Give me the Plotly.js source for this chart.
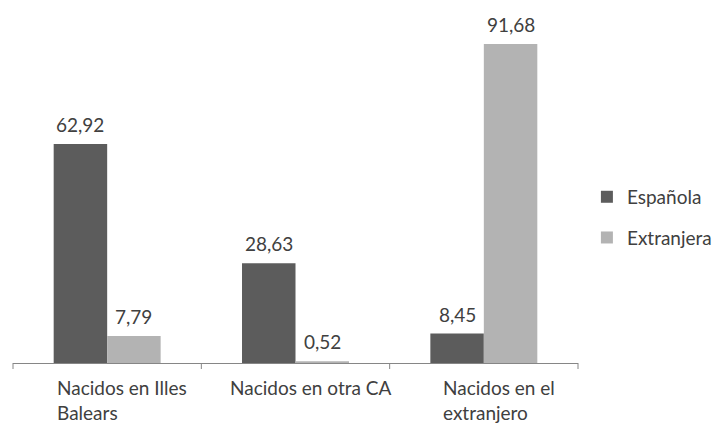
<!DOCTYPE html>
<html><head><meta charset="utf-8">
<script src="https://cdn.plot.ly/plotly-3.0.1.min.js"></script>
<style>body{margin:0;background:#fff}#chart{width:714px;height:423px}</style>
</head><body><div id="chart"></div>
<script>
const categories = ["Nacidos en Illes Balears", "Nacidos en otra CA", "Nacidos en el extranjero"];
const tickLabels = ["Nacidos en Illes<br>Balears", "Nacidos en otra CA", "Nacidos en el<br>extranjero"];
const espanola = [62.92, 28.63, 8.45];
const extranjera = [7.79, 0.52, 91.68];
const seriesNames = ["Española", "Extranjera"];

const font = "Lato, Open Sans, sans-serif";
const txt = "#404040";
const fmt = v => v.toFixed(2).replace('.', ',');

const traces = [
  {type:'bar', name:seriesNames[0], x:categories, y:espanola, marker:{color:'#5c5c5c'},
   legendgroup:'a', hoverinfo:'skip'},
  {type:'bar', name:seriesNames[1], x:categories, y:extranjera, marker:{color:'#b3b3b3'},
   legendgroup:'b', hoverinfo:'skip'}
];

const M = {l:12.5, r:136, t:15, b:60};
const bargap = 0.432;
const plotW = 714 - M.l - M.r;
const half = plotW / categories.length * (1 - bargap) / 4;

const annotations = categories.map((c,i)=>({
  x:c, xref:'x', y:0, yref:'paper', yanchor:'top', yshift:-11, xshift:15,
  text:tickLabels[i], showarrow:false, align:'left', xanchor:'center',
  font:{family:font,size:19,color:txt}
}));
[espanola, extranjera].forEach((arr, s) => arr.forEach((v, i) => annotations.push({
  x:categories[i], xref:'x', y:v, yref:'y', yanchor:'bottom', xanchor:'center',
  xshift:(s === 0 ? -1 : 1) * half, yshift:6, showarrow:false,
  text:fmt(v), font:{family:font,size:19,color:txt}
})));

const layout = {
  width:714, height:423,
  margin:M,
  paper_bgcolor:'#fff', plot_bgcolor:'#fff',
  barmode:'group', bargap:bargap, bargroupgap:0,
  showlegend:true,
  legend:{xref:'container', yref:'container', x:0.822, xanchor:'left', y:0.486, yanchor:'middle',
          tracegroupgap:13, font:{family:font,size:19,color:txt}, itemwidth:30},
  xaxis:{showticklabels:false, showline:true, linecolor:'#868686', linewidth:1,
         ticks:'', showgrid:false, zeroline:false},
  yaxis:{range:[0,100], visible:false, showgrid:false, zeroline:false},
  annotations: annotations,
  shapes: [0,1,2,3].map(k=>({type:'line', xref:'paper', yref:'paper',
    x0:k/3, x1:k/3, ysizemode:'pixel', yanchor:0, y0:0, y1:-6,
    line:{color:'#868686', width:1}}))
};

Plotly.newPlot('chart', traces, layout, {staticPlot:true});
</script></body></html>
